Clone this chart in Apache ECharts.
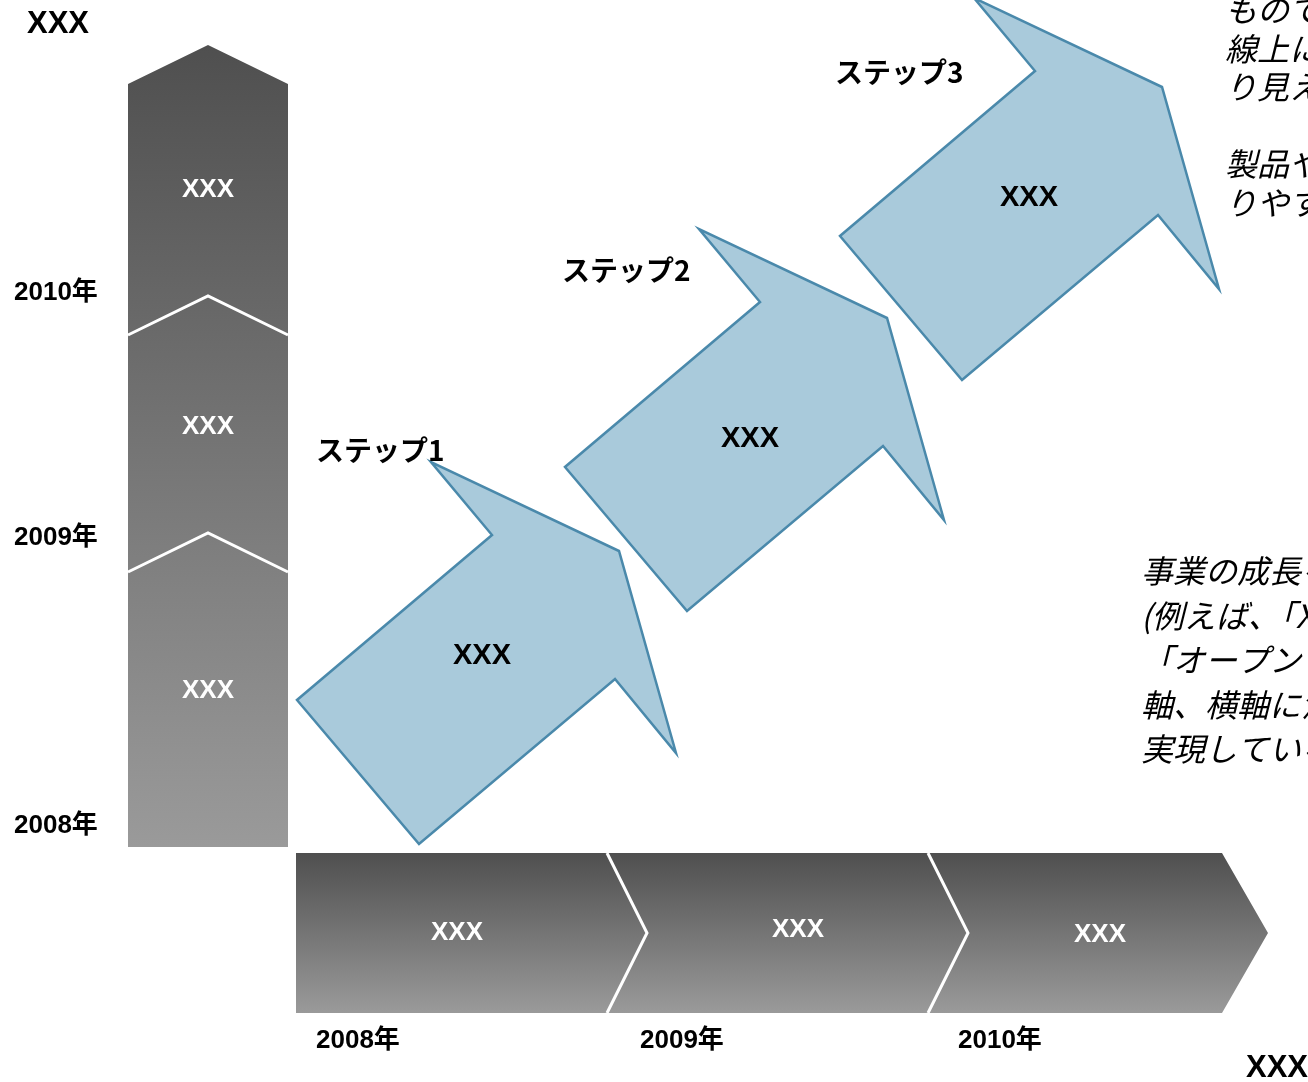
<!DOCTYPE html>
<html>
<head>
<meta charset="utf-8">
<script src="https://cdn.jsdelivr.net/npm/echarts@6/dist/echarts.min.js"></script>
<style>
  html, body { margin: 0; padding: 0; background: #fff; }
  #main { width: 1308px; height: 1082px; }
</style>
</head>
<body>
<div id="main"></div>
<script>
// --- data ---
var years = ['2008年', '2009年', '2010年'];
var columnLabels = ['XXX', 'XXX', 'XXX'];
var rowLabels = ['XXX', 'XXX', 'XXX'];
var steps = ['ステップ1', 'ステップ2', 'ステップ3'];
var stepLabels = ['XXX', 'XXX', 'XXX'];
var axisTitles = ['XXX', 'XXX'];
var noteTop = ['ものである。このように', '線上に並べることで、よ', 'り見えやすくなります。', '', '製品やサービスの位置がわか', 'りやすくなります。'];
var noteBottom = ['事業の成長を表現する', '(例えば、「XXX」から', '「オープンソース」へ）縦', '軸、横軸に沿って成長を', '実現していることを示す'];

// --- layout (pixels of the 1308x1082 canvas) ---
var col = { x0: 128, x1: 288, edges: [847, 572, 335, 84], peak: 39, labelY: [691, 427, 190], yearY: [826, 538, 293] };
var row = { y0: 853, y1: 1013, edges: [296, 607, 928, 1222], point: [40, 40, 46], labelX: [457, 798, 1100], labelY: [933, 930, 935], yearX: [316, 640, 958], yearY: 1041 };
var arrowShape = [[0, 0], [122, 144], [318, -21], [379, 53], [322, -149], [134, -238], [195, -165]];
var arrowAnchor = [[297, 700], [565, 467], [840, 236]];
var arrowLabel = [[482, 656], [750, 439], [1029, 198]];
var stepPos = [[316, 450], [562, 270], [835, 72]];

var latin = '"Liberation Sans", Arial, "Noto Sans CJK JP", sans-serif';
var whiteFont = 'bold 26px ' + latin;
var yearFont = 'bold 26px ' + latin;
var noteFont = 'italic 32px "Noto Sans CJK JP", sans-serif';

function grey(y0, y1) {
  return { type: 'linear', x: 0, y: y0, x2: 0, y2: y1, global: true,
    colorStops: [{ offset: 0, color: '#4f4f4f' }, { offset: 1, color: '#9a9a9a' }] };
}

function txt(text, x, y, font, fill, align) {
  return { type: 'text', x: x, y: y, style: { text: text, font: font, fill: fill,
    align: align || 'center', verticalAlign: 'middle', textAlign: align || 'center', textVerticalAlign: 'middle' } };
}

var chart = echarts.init(document.getElementById('main'), null, { renderer: 'canvas' });

var option = {
  animation: false,
  backgroundColor: '#ffffff',
  grid: { left: 0, right: 0, top: 0, bottom: 0 },
  xAxis: { type: 'value', min: 0, max: 1308, show: false },
  yAxis: { type: 'value', min: 0, max: 1082, inverse: true, show: false },
  series: [
    {
      name: 'column', type: 'custom', coordinateSystem: 'cartesian2d',
      data: years.map(function (y, i) { return [i]; }),
      renderItem: function (params, api) {
        var i = api.value(0);
        var mid = (col.x0 + col.x1) / 2;
        var b = col.edges[i], t = col.edges[i + 1];
        var bp = i === 0 ? b : b - col.peak;
        var pts = [[col.x0, b], [mid, bp], [col.x1, b], [col.x1, t], [mid, t - col.peak], [col.x0, t]].map(function (p) { return api.coord(p); });
        var children = [
          { type: 'polygon', shape: { points: pts }, style: { fill: grey(44, 847) } }
        ];
        if (i > 0) {
          children.push({ type: 'polyline', shape: { points: [api.coord([col.x0, b]), api.coord([mid, bp]), api.coord([col.x1, b])] },
            style: { stroke: '#ffffff', lineWidth: 3, fill: null } });
        }
        var lc = api.coord([mid, col.labelY[i]]);
        children.push(txt(columnLabels[i], lc[0], lc[1], whiteFont, '#ffffff'));
        var yc = api.coord([14, col.yearY[i]]);
        children.push(txt(years[i], yc[0], yc[1], yearFont, '#000000', 'left'));
        return { type: 'group', children: children };
      }
    },
    {
      name: 'row', type: 'custom', coordinateSystem: 'cartesian2d',
      data: years.map(function (y, i) { return [i]; }),
      renderItem: function (params, api) {
        var i = api.value(0);
        var ym = (row.y0 + row.y1) / 2;
        var l = row.edges[i], r = row.edges[i + 1];
        var lp = i === 0 ? l : l + row.point[i - 1];
        var pts = [[l, row.y0], [r, row.y0], [r + row.point[i], ym], [r, row.y1], [l, row.y1], [lp, ym]].map(function (p) { return api.coord(p); });
        var children = [
          { type: 'polygon', shape: { points: pts }, style: { fill: grey(853, 1013) } }
        ];
        if (i > 0) {
          children.push({ type: 'polyline', shape: { points: [api.coord([l, row.y0]), api.coord([lp, ym]), api.coord([l, row.y1])] },
            style: { stroke: '#ffffff', lineWidth: 3, fill: null } });
        }
        var lc = api.coord([row.labelX[i], row.labelY[i]]);
        children.push(txt(rowLabels[i], lc[0], lc[1], whiteFont, '#ffffff'));
        var yc = api.coord([row.yearX[i], row.yearY]);
        children.push(txt(years[i], yc[0], yc[1], yearFont, '#000000', 'left'));
        return { type: 'group', children: children };
      }
    },
    {
      name: 'steps', type: 'custom', coordinateSystem: 'cartesian2d',
      data: steps.map(function (s, i) { return [i]; }),
      renderItem: function (params, api) {
        var i = api.value(0);
        var a = arrowAnchor[i];
        var pts = arrowShape.map(function (p) { return api.coord([a[0] + p[0], a[1] + p[1]]); });
        var lc = api.coord(arrowLabel[i]);
        var sc = api.coord(stepPos[i]);
        return { type: 'group', children: [
          { type: 'polygon', shape: { points: pts }, style: { fill: '#a9cadb', stroke: '#4a89ab', lineWidth: 2.5, lineJoin: 'miter' } },
          txt(stepLabels[i], lc[0], lc[1], 'bold 29px ' + latin, '#000000'),
          txt(steps[i], sc[0], sc[1], 'bold 28px "Noto Sans CJK JP", "Liberation Sans", sans-serif', '#000000', 'left')
        ] };
      }
    },
    {
      name: 'notes', type: 'custom', coordinateSystem: 'cartesian2d',
      data: [[0]],
      renderItem: function (params, api) {
        var children = [];
        noteTop.forEach(function (line, k) {
          var c = api.coord([1225, 10 + k * 38.5]);
          if (line) children.push(txt(line, c[0], c[1], noteFont, '#000000', 'left'));
        });
        noteBottom.forEach(function (line, k) {
          var c = api.coord([1141, 571 + k * 44.5]);
          children.push(txt(line, c[0], c[1], noteFont, '#000000', 'left'));
        });
        var t1 = api.coord([58, 24]);
        children.push(txt(axisTitles[0], t1[0], t1[1], 'bold 31px ' + latin, '#000000'));
        var t2 = api.coord([1246, 1068]);
        children.push(txt(axisTitles[1], t2[0], t2[1], 'bold 31px ' + latin, '#000000', 'left'));
        return { type: 'group', children: children };
      }
    }
  ]
};

chart.setOption(option);
</script>
</body>
</html>
